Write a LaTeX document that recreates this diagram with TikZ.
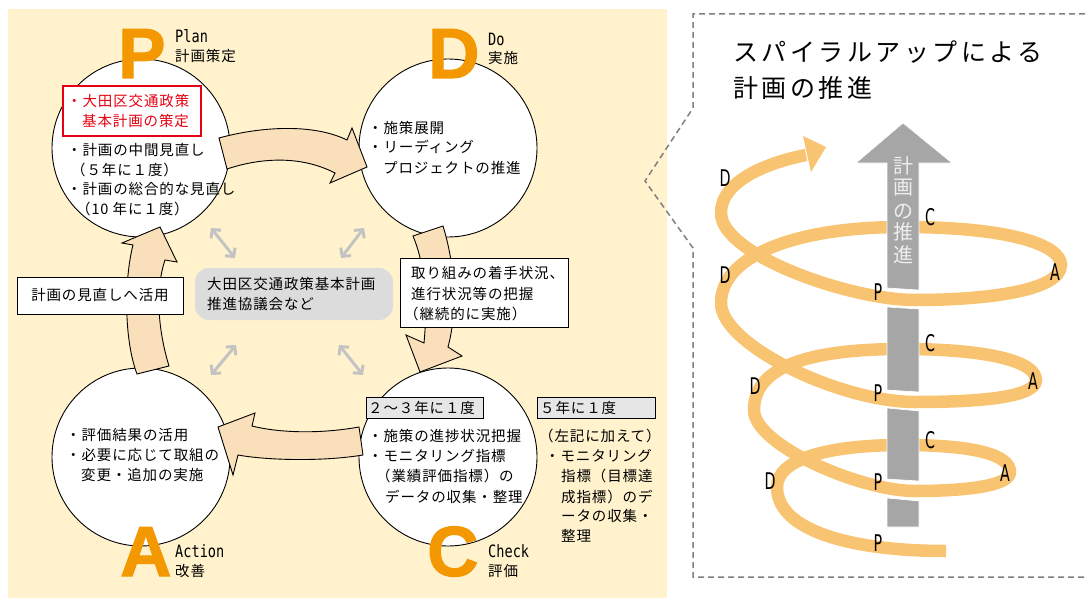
\documentclass[tikz,border=0pt]{standalone}
\usepackage{fontspec}
\usepackage{graphicx}
\usetikzlibrary{arrows.meta}
\newfontfamily\jpf{Noto Sans CJK JP}[LetterSpace=6]
\newfontfamily\jptf{Noto Sans CJK JP}[LetterSpace=14]
\newfontfamily\jpplain{Noto Sans CJK JP}
\newfontfamily\monof{DejaVu Sans Mono}
\newfontfamily\condf{DejaVu Sans}
\newfontfamily\heavyf{Liberation Sans}[BoldFeatures={FakeBold=1.5}]
\definecolor{panelbg}{RGB}{255,242,204}
\definecolor{arrowfill}{RGB}{250,224,186}
\definecolor{pdcaorange}{RGB}{243,152,0}
\definecolor{spiralor}{RGB}{248,196,113}
\definecolor{shaftgray}{RGB}{166,166,166}
\definecolor{boxgray}{RGB}{220,220,220}
\definecolor{labelgray}{RGB}{230,230,230}
\definecolor{dashgray}{RGB}{128,128,128}
\definecolor{dblgray}{RGB}{195,195,195}
\definecolor{redtxt}{RGB}{230,0,18}
\definecolor{vtextgray}{RGB}{238,238,238}
\tikzset{
 circ/.style={circle,draw=black,fill=white,line width=0.9pt,minimum size=178pt,inner sep=0pt},
 bigarrow/.style={draw=black,fill=arrowfill,line width=0.9pt,line join=miter,miter limit=20},
 jl/.style={anchor=base west,inner sep=0pt,font=\jpf\fontsize{14.5}{18}\selectfont},
 latinlab/.style={anchor=base west,inner sep=0pt,font=\monof\fontsize{17}{20}\selectfont},
 bigletter/.style={anchor=base west,inner sep=0pt,text=pdcaorange,font=\heavyf\bfseries\fontsize{71}{71}\selectfont},
 dblarrow/.style={draw=dblgray,line width=3pt,{Straight Barb[length=6pt,width=13pt]}-{Straight Barb[length=6pt,width=13pt]}},
 plainbox/.style={draw=black,fill=white,line width=0.9pt,inner sep=0pt},
 graybox/.style={draw=black,fill=labelgray,line width=0.9pt,inner sep=0pt},
 spiral/.style={draw=spiralor,line width=12.5pt,line cap=butt},
 shaft/.style={fill=shaftgray,draw=white,line width=0.6pt},
 spl/.style={inner sep=0pt,font=\condf\fontsize{23}{23}\selectfont},
 dashbox/.style={draw=dashgray,line width=1.5pt,dash pattern=on 6pt off 4pt},
 vtext/.style={inner sep=0pt,text=vtextgray,font=\jpplain\fontsize{20}{20}\selectfont},
}
\begin{document}
\begin{tikzpicture}[x=1pt,y=-1pt]
\useasboundingbox (0,0) rectangle (1086,599);
\clip (0,0) rectangle (1086,599);
% left panel
\fill[panelbg] (8,9) rectangle (667,598);
% right dashed frame
\draw[dashbox] (1095,14) -- (693,14) -- (693,108) -- (645,181) -- (693,248) -- (693,577) -- (1095,577);

% circles
\node[circ] (pc) at (141,148) {};
\node[circ] (dc) at (448,148) {};
\node[circ] (ac) at (141,457) {};
\node[circ] (cc) at (448,457) {};

% big cycle arrows
\filldraw[bigarrow] (219,138) .. controls (255,128) and (310,122) .. (347,140) -- (352,128) -- (367,167) -- (330,183) -- (335,173) .. controls (300,155) and (260,158) .. (227,169) -- cycle;
\filldraw[bigarrow] (413,236) -- (443,226) .. controls (455,265) and (458,310) .. (448,347) -- (462,356) -- (420,372) -- (406,335) -- (424,343) .. controls (428,300) and (425,265) .. (413,236) -- cycle;
\filldraw[bigarrow] (359,427) .. controls (320,434) and (280,433) .. (252,426) -- (255,413) -- (218,427) -- (233,475) -- (238,455) .. controls (265,460) and (320,462) .. (363,455) -- cycle;
\filldraw[bigarrow] (137,374) -- (169,366) .. controls (158,330) and (155,290) .. (165,260) -- (177,262) -- (160,227) -- (122,243) -- (133,245) .. controls (124,280) and (124,340) .. (137,374) -- cycle;

% gray double arrows
\coordinate (g1a) at (211,228); \coordinate (g1b) at (235,258);
\coordinate (g2a) at (364,228); \coordinate (g2b) at (341,258);
\coordinate (g3a) at (211,375); \coordinate (g3b) at (236,345);
\coordinate (g4a) at (363,375); \coordinate (g4b) at (339,345);
\draw[dblarrow] (g1a) -- (g1b);
\draw[dblarrow] (g2a) -- (g2b);
\draw[dblarrow] (g3a) -- (g3b);
\draw[dblarrow] (g4a) -- (g4b);

% center council box
\node[fill=boxgray,rounded corners=14pt,minimum width=198pt,minimum height=52pt,inner sep=0pt] (council) at (294,294) {};
\node[jl] (cb1) at (207,289.5) {大田区交通政策基本計画};
\node[jl] (cb2) at (207,309.5) {推進協議会など};

% review box
\node[plainbox,minimum width=166pt,minimum height=37pt,font=\jpf\fontsize{14.5}{18}\selectfont] (rev) at (100,295.5) {計画の見直しへ活用};

% progress box
\node[plainbox,minimum width=168pt,minimum height=69pt] (prog) at (484,292.5) {};
\node[jl] (pg1) at (411,278) {取り組みの着手状況、};
\node[jl] (pg2) at (411,299) {進行状況等の把握};
\node[jl] (pg3) at (404,319) {（継続的に実施）};

% P circle text
\node[draw=redtxt,fill=white,line width=1.2pt,minimum width=138pt,minimum height=50pt,inner sep=0pt] (redbox) at (132,111) {};
\node[jl,text=redtxt] (pr1) at (67,106.5) {・大田区交通政策};
\node[jl,text=redtxt] (pr2) at (82,126.5) {基本計画の策定};
\node[jl] (p1) at (67,155.5) {・計画の中間見直し};
\node[jl] (p2) at (71,175) {（５年に１度）};
\node[jl] (p3) at (67,194.5) {・計画の総合的な見直し};
\node[jl] (p4) at (76,214) {（10 年に１度）};

% D circle text
\node[jl] (d1) at (368,134) {・施策展開};
\node[jl] (d2) at (368,153) {・リーディング};
\node[jl] (d3) at (383,173) {プロジェクトの推進};

% C circle text
\node[graybox,minimum width=117pt,minimum height=21pt] (freq1) at (424.5,407.5) {};
\node[jl] (freq1t) at (368,413.5) {２～３年に１度};
\node[graybox,minimum width=118pt,minimum height=21pt] (freq2) at (596,407.5) {};
\node[jl] (freq2t) at (540,413.5) {５年に１度};
\node[jl] (c1) at (368,441.5) {・施策の進捗状況把握};
\node[jl] (c2) at (368,461.5) {・モニタリング指標};
\node[jl] (c3) at (376,481.5) {（業績評価指標）の};
\node[jl] (c4) at (385,502) {データの収集・整理};
\node[jl] (r1) at (539,441.5) {（左記に加えて）};
\node[jl] (r2) at (545,461.5) {・モニタリング};
\node[jl] (r3) at (561,481.5) {指標（目標達};
\node[jl] (r4) at (561,502) {成指標）のデ};
\node[jl] (r5) at (561,521.5) {ータの収集・};
\node[jl] (r6) at (561,541.5) {整理};

% A circle text
\node[jl] (a1) at (66,440.5) {・評価結果の活用};
\node[jl] (a2) at (66,460.5) {・必要に応じて取組の};
\node[jl] (a3) at (81,480.5) {変更・追加の実施};

% phase labels
\node[latinlab] (planl) at (175,42.5) {\scalebox{0.8}[1]{Plan}};
\node[jl] (planj) at (175,61.5) {計画策定};
\node[latinlab] (dol) at (488,46) {\scalebox{0.8}[1]{Do}};
\node[jl] (doj) at (488,63.5) {実施};
\node[latinlab] (actl) at (175,557) {\scalebox{0.8}[1]{Action}};
\node[jl] (actj) at (175,576) {改善};
\node[latinlab] (chkl) at (488,557) {\scalebox{0.8}[1]{Check}};
\node[jl] (chkj) at (488,576) {評価};

% big letters
\node[bigletter] (bigP) at (118,78) {P};
\node[bigletter] (bigD) at (428,78) {D};
\node[bigletter] (bigA) at (120,576) {A};
\node[bigletter] (bigC) at (427,576) {C};

% right panel title
\node[anchor=base west,inner sep=0pt,font=\jptf\fontsize{25}{30}\selectfont] (title1) at (733,61.5) {スパイラルアップによる};
\node[anchor=base west,inner sep=0pt,font=\jptf\fontsize{25}{30}\selectfont] (title2) at (733,98) {計画の推進};

% spiral
\draw[spiral] (946,551) .. controls (855,551) and (777,532) .. (777,487)
 .. controls (777,460) and (825,445) .. (903,445)
 .. controls (975,445) and (1010,455) .. (1010,472)
 .. controls (1010,486) and (965,491) .. (915,491)
 .. controls (860,491) and (754,445) .. (754,410)
 .. controls (754,370) and (800,349) .. (903,349)
 .. controls (990,349) and (1036,362) .. (1036,380)
 .. controls (1036,398) and (975,402) .. (915,402)
 .. controls (840,402) and (721,345) .. (721,303)
 .. controls (721,258) and (790,227) .. (903,227)
 .. controls (1010,227) and (1061,245) .. (1061,265)
 .. controls (1061,290) and (990,300) .. (915,300)
 .. controls (850,300) and (721,255) .. (721,213)
 .. controls (721,180) and (770,162) .. (806,155);
\fill[spiralor] (803,136) -- (826,147) -- (811,172) -- cycle;

% progress shaft (behind front arcs)
\filldraw[shaft] (887,288) -- (887,163) -- (856,163) -- (903,123) -- (952,163) -- (919,163) -- (919,290) -- cycle;
\filldraw[shaft] (887,307) -- (919,309) -- (919,392) -- (887,390) -- cycle;
\filldraw[shaft] (887,408) -- (919,411) -- (919,481) -- (887,479) -- cycle;
\filldraw[shaft] (887,498) -- (919,501) -- (919,527) -- (887,527) -- cycle;
\node[vtext] (v1) at (903,166) {計};
\node[vtext] (v2) at (903,188) {画};
\node[vtext] (v3) at (903,212) {の};
\node[vtext] (v4) at (903,232) {推};
\node[vtext] (v5) at (903,255) {進};

% spiral labels
\node[spl] (sD1) at (725,178) {\scalebox{0.62}[1]{D}};
\node[spl] (sD2) at (725,275) {\scalebox{0.62}[1]{D}};
\node[spl] (sD3) at (755,386) {\scalebox{0.62}[1]{D}};
\node[spl] (sD4) at (770,481) {\scalebox{0.62}[1]{D}};
\node[spl] (sC1) at (930,217) {\scalebox{0.62}[1]{C}};
\node[spl] (sC2) at (930,343) {\scalebox{0.62}[1]{C}};
\node[spl] (sC3) at (930,440) {\scalebox{0.62}[1]{C}};
\node[spl] (sA1) at (1055,272) {\scalebox{0.62}[1]{A}};
\node[spl] (sA2) at (1033,381) {\scalebox{0.62}[1]{A}};
\node[spl] (sA3) at (1005,473) {\scalebox{0.62}[1]{A}};
\node[spl] (sP1) at (878,292) {\scalebox{0.62}[1]{P}};
\node[spl] (sP2) at (878,393) {\scalebox{0.62}[1]{P}};
\node[spl] (sP3) at (878,482) {\scalebox{0.62}[1]{P}};
\node[spl] (sP4) at (878,543) {\scalebox{0.62}[1]{P}};
\end{tikzpicture}
\end{document}
